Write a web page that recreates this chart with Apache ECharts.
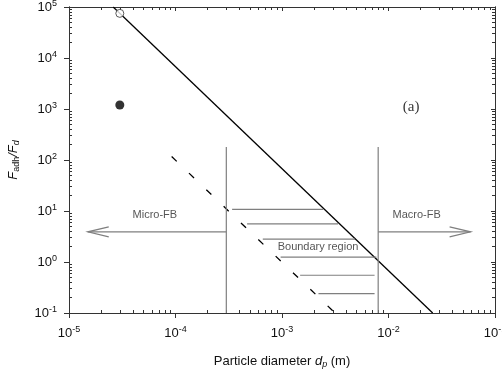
<!DOCTYPE html>
<html>
<head>
<meta charset="utf-8">
<script src="https://cdn.jsdelivr.net/npm/echarts@6/dist/echarts.min.js"></script>
<style>
  html, body { margin: 0; padding: 0; background: #fff; }
  #chart { width: 502px; height: 372px; }
</style>
</head>
<body>
<div id="chart"></div>
<script>
// axis decades
const decadesX = [1e-5, 1e-4, 1e-3, 1e-2, 1e-1];
const decadesY = [1e-1, 1, 10, 100, 1e3, 1e4, 1e5];

// F_adh/F_d lines (slope -2 on log-log)
const solidLine = [[2.6e-5, 1e5], [2.6e-2, 0.1]];
const dashedLine = [[9.2e-5, 117], [3.15e-3, 0.1]];
const openPoint = [[3e-5, 7.5e4]];
const filledPoint = [[3e-5, 1200]];

// boundary region
const boundaryX = [3e-4, 8e-3];
const boundaryTop = 180;
const hatchY = [10.8, 5.6, 2.8, 1.25, 0.55, 0.24];
const hatchLeft = [3.4e-4, 4.7e-4, 6.6e-4, 9.7e-4, 1.48e-3, 2.2e-3];
const hatchRight = [2.43e-3, 3.36e-3, 4.85e-3, 7.7e-3, 7.4e-3, 7.4e-3];

// arrows
const arrowY = 3.9;
const microArrow = [[3e-4, arrowY], [1.5e-5, arrowY]];
const macroArrow = [[8e-3, arrowY], [0.059, arrowY]];

// text labels
const notes = [
  { name: 'Micro-FB', value: [6.4e-5, 8.4] },
  { name: 'Macro-FB', value: [0.0184, 8.2] },
  { name: 'Boundary region', value: [2.18e-3, 1.97] }
];
const panelTag = [{ name: '(a)', value: [0.0163, 1100] }];

// both axes are log10 scales: points go in as exponents
const lg = (p) => [Math.log10(p[0]), Math.log10(p[1])];
const lgItem = (d) => ({ name: d.name, value: lg(d.value) });

const majorOf = (dec) => dec.map(d => Math.log10(d));
const minorOf = (dec) => {
  const out = [];
  dec.slice(0, -1).forEach(d => { for (let k = 2; k <= 9; k++) out.push(Math.log10(d * k)); });
  return out;
};
const majorX = majorOf(decadesX), minorX = minorOf(decadesX);
const majorY = majorOf(decadesY), minorY = minorOf(decadesY);

const axisColor = '#333';
const gray = '#7f7f7f';
const font = 'Liberation Sans, Arial, sans-serif';

const powLabel = (v) => '{b|10}{s|' + Math.round(v) + '}';
const powRich = {
  b: { fontSize: 13, color: '#111', fontFamily: font },
  s: { fontSize: 9, color: '#111', fontFamily: font, padding: [0, 0, 7, 0] }
};

// one axis per side and tick kind; all share the grid
const makeAxis = (major, ticks, position, len, inside, labels) => ({
  type: 'value',
  min: major[0],
  max: major[major.length - 1],
  interval: 1,
  position: position,
  axisLine: { show: true, onZero: false, lineStyle: { color: axisColor, width: 1 } },
  axisTick: { show: true, customValues: ticks, length: len, inside: inside, lineStyle: { color: axisColor, width: 1 } },
  axisLabel: labels
    ? { show: true, formatter: powLabel, rich: powRich, margin: 12 }
    : { show: false },
  splitLine: { show: false }
});

const chart = echarts.init(document.getElementById('chart'));

const xMain = makeAxis(majorX, majorX, 'bottom', 5, false, true);
xMain.name = 'Particle diameter {i|d}{sub|p} (m)';
xMain.nameLocation = 'middle';
xMain.nameGap = 40;
xMain.nameTextStyle = {
  fontSize: 13, color: '#111', fontFamily: font,
  rich: {
    i: { fontSize: 13, fontStyle: 'italic', color: '#111', fontFamily: font },
    sub: { fontSize: 9, fontStyle: 'italic', color: '#111', fontFamily: font, padding: [7, 0, 0, 0] }
  }
};

const yMain = makeAxis(majorY, majorY, 'left', 5, false, true);
yMain.name = '{i|F}{sub|adh}{i|/F}{isub|d}';
yMain.nameLocation = 'middle';
yMain.nameGap = 48;
yMain.nameTextStyle = {
  rich: {
    i: { fontSize: 13, fontStyle: 'italic', color: '#111', fontFamily: font },
    sub: { fontSize: 9, color: '#111', fontFamily: font, padding: [7, 0, 0, 0] },
    isub: { fontSize: 9, fontStyle: 'italic', color: '#111', fontFamily: font, padding: [7, 0, 0, 0] }
  }
};

const lineSeries = (data, color, width, type) => ({
  type: 'line',
  data: data.map(lg),
  symbol: 'none',
  silent: true,
  lineStyle: { color: color, width: width, type: type || 'solid' },
  z: 3
});

const series = [
  lineSeries(solidLine, '#000', 1.3),
  lineSeries(dashedLine, '#000', 1.3, [7, 17]),
  lineSeries([[boundaryX[0], 0.1], [boundaryX[0], boundaryTop]], gray, 1.2),
  lineSeries([[boundaryX[1], 0.1], [boundaryX[1], boundaryTop]], gray, 1.2),
  lineSeries(microArrow, gray, 1.2),
  lineSeries(macroArrow, gray, 1.2)
];
hatchY.forEach((y, i) => {
  series.push(lineSeries([[hatchLeft[i], y], [hatchRight[i], y]], gray, 1.2));
});
series.push({
  type: 'scatter', data: openPoint.map(lg), symbol: 'circle', symbolSize: 8,
  itemStyle: { color: '#fff', borderColor: '#333', borderWidth: 1 }, z: 5
});
series.push({
  type: 'scatter', data: filledPoint.map(lg), symbol: 'circle', symbolSize: 9,
  itemStyle: { color: '#000' }, z: 5
});
series.push({
  type: 'scatter', data: notes.map(lgItem), symbolSize: 0,
  label: { show: true, position: 'inside', formatter: '{b}', fontSize: 11, color: '#2a2a2a', fontFamily: font },
  z: 6
});
series.push({
  type: 'scatter', data: panelTag.map(lgItem), symbolSize: 0,
  label: { show: true, position: 'inside', formatter: '{b}', fontSize: 15, color: '#000', fontFamily: 'Liberation Serif, Times New Roman, serif' },
  z: 6
});

chart.setOption({
  animation: false,
  backgroundColor: '#fff',
  grid: { left: 69, right: 7, top: 7, bottom: 59, containLabel: false, outerBoundsMode: 'none' },
  xAxis: [
    xMain,
    makeAxis(majorX, minorX, 'bottom', 3, true, false),
    makeAxis(majorX, majorX, 'top', 4, true, false),
    makeAxis(majorX, minorX, 'top', 3, true, false)
  ],
  yAxis: [
    yMain,
    makeAxis(majorY, minorY, 'left', 3, true, false),
    makeAxis(majorY, majorY, 'right', 4, true, false),
    makeAxis(majorY, minorY, 'right', 3, true, false)
  ],
  series: series
});

// open V arrowheads at the arrow tips
const headLen = 21, headHalf = 5;
const head = (tip, dir) => {
  const p = chart.convertToPixel({ gridIndex: 0 }, lg(tip));
  return {
    type: 'polyline',
    silent: true,
    shape: { points: [[p[0] - dir * headLen, p[1] - headHalf], p, [p[0] - dir * headLen, p[1] + headHalf]] },
    style: { stroke: gray, lineWidth: 1.2, fill: null },
    z: 10
  };
};
chart.setOption({
  graphic: [head(microArrow[1], -1), head(macroArrow[1], 1)]
});
</script>
</body>
</html>
